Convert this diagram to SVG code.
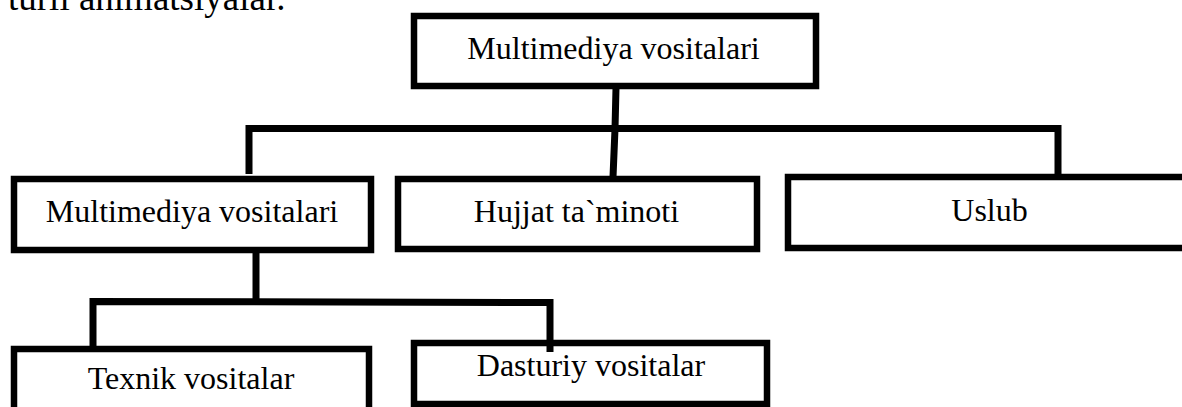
<svg xmlns="http://www.w3.org/2000/svg" width="1182" height="407" viewBox="0 0 1182 407">
<style>
.box{fill:#fff;stroke:#000;stroke-width:6.5}
.lbl{font-family:"Liberation Serif","Times New Roman",serif;font-size:32px;fill:#000;text-anchor:middle}
.con{fill:none;stroke:#000;stroke-width:7;stroke-linejoin:miter;stroke-linecap:butt}
</style>
<rect width="1182" height="407" fill="#fff"/>
<text x="8" y="10" font-family="'Liberation Serif','Times New Roman',serif" font-size="37" fill="#000">turli animatsiyalar.</text>
<g id="connectors">
<path class="con" d="M616 88 L615 129 L613 177"/>
<path class="con" d="M249 174 L249 128.5 L1058 128.5 L1058 175"/>
<path class="con" d="M256 252 L256 302"/>
<path class="con" d="M93 347 L93 301.5 L550 302.5 L550 352"/>
</g>
<g id="n-root">
<rect class="box" x="414" y="16" width="402" height="70"/>
<text class="lbl" x="613.5" y="59">Multimediya vositalari</text>
</g>
<g id="n-multimedia">
<rect class="box" x="14" y="179" width="357" height="71"/>
<text class="lbl" x="192" y="222">Multimediya vositalari</text>
</g>
<g id="n-hujjat">
<rect class="box" x="398" y="179" width="359" height="70"/>
<text class="lbl" x="576.5" y="222">Hujjat ta`minoti</text>
</g>
<g id="n-uslub">
<rect class="box" x="788" y="177" width="420" height="71"/>
<text class="lbl" x="989.5" y="221">Uslub</text>
</g>
<g id="n-texnik">
<rect class="box" x="14" y="349" width="355" height="80"/>
<text class="lbl" x="191" y="389">Texnik vositalar</text>
</g>
<g id="n-dasturiy">
<rect class="box" x="414" y="343" width="353" height="61"/>
<text class="lbl" x="591" y="376">Dasturiy vositalar</text>
</g>
<path class="con" d="M550 343 L550 352"/>
</svg>
